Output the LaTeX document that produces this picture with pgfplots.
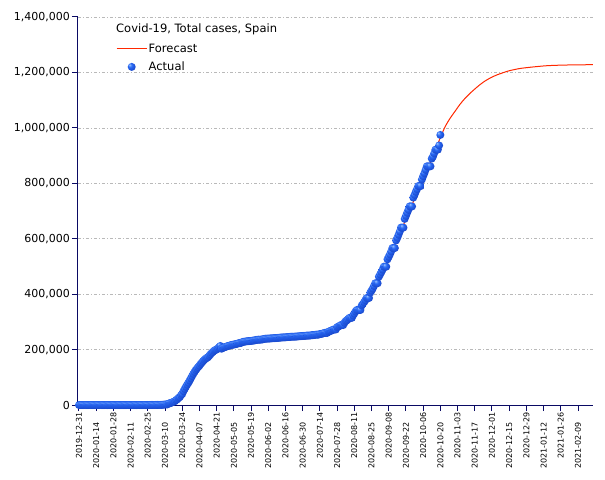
\documentclass[border=0pt]{standalone}
\usepackage{fontspec}
\setmainfont{DejaVu Sans}
\usepackage{pgfplots}
\pgfplotsset{compat=1.18}
\definecolor{navyax}{RGB}{10,10,100}
\definecolor{fcred}{RGB}{255,40,0}
\definecolor{ballhl}{RGB}{160,200,255}
\definecolor{ballblue}{RGB}{40,105,245}
\definecolor{ballmid}{RGB}{22,65,195}
\definecolor{balldark}{RGB}{8,28,115}
\pgfdeclareradialshading{brightball}{\pgfpoint{-14bp}{14bp}}{color(0bp)=(ballhl); color(12bp)=(ballblue); color(32bp)=(ballmid); color(50bp)=(balldark)}
\pgfdeclareplotmark{bball}{\pgfpathcircle{\pgfpointorigin}{\pgfplotmarksize}\pgfshadepath{brightball}{0}\pgfusepath{discard}}
\pgfplotsset{
  linelegend/.style={legend image code/.code={\draw[##1] (0bp,0bp) -- (30bp,0bp);}},
  balllegend/.style={legend image code/.code={\path[##1] plot coordinates {(15bp,0bp)}; \path (0bp,0bp) (30bp,0bp);}},
}
\begin{document}
\begin{tikzpicture}
\begin{axis}[
  at={(0,0)}, anchor=south west,
  scale only axis, width=515bp, height=388bp,
  xmin=-0.8, xmax=418.2, ymin=0, ymax=1400000,
  clip=false,
  axis x line*=bottom, axis y line*=left,
  axis line style={navyax, line width=1bp},
  tick align=outside, major tick length=6bp,
  tick style={navyax, line width=1bp},
  ytick={0,200000,...,1400000},
  scaled y ticks=false,
  yticklabel style={font=\fontsize{11bp}{13bp}\selectfont, inner sep=2bp,
    /pgf/number format/fixed, /pgf/number format/1000 sep={,}, /pgf/number format/assume math mode=true},
  ymajorgrids,
  grid style={gray!55, line width=0.6bp, dash pattern=on 3bp off 2bp on 1bp off 2bp},
  xtick={0,28,...,392},
  xticklabels={2019-12-31,2020-01-28,2020-02-25,2020-03-24,2020-04-21,2020-05-19,2020-06-16,2020-07-14,2020-08-11,2020-09-08,2020-10-06,2020-11-03,2020-12-01,2020-12-29,2021-01-26},
  xticklabel style={rotate=90, anchor=east, font=\fontsize{8bp}{10bp}\selectfont, inner sep=1bp},
  extra x ticks={14,42,...,406},
  extra x tick labels={2020-01-14,2020-02-11,2020-03-10,2020-04-07,2020-05-05,2020-06-02,2020-06-30,2020-07-28,2020-08-25,2020-09-22,2020-10-20,2020-11-17,2020-12-15,2021-01-12,2021-02-09},
  extra x tick style={xticklabel shift=10bp, grid=none},
  legend style={draw=none, fill=none, at={(axis description cs:0.0738,0.935)}, anchor=north west,
    font=\fontsize{11.5bp}{13bp}\selectfont, inner sep=0pt, row sep=5bp,
    nodes={inner sep=1.5bp}},
  legend cell align=left,
]
\addplot[fcred, line width=1bp, smooth, linelegend]
  coordinates {
  (260,610000) (265,660000) (270,712000) (275,765000) (280,815000) (285,866000)
  (290,920000) (294,965000) (298,1005000) (302,1035000) (306,1060000) (310,1085000)
  (314,1106000) (318,1124000) (322,1140000) (326,1155000) (330,1168000) (335,1181000)
  (340,1191000) (345,1199000) (350,1206000) (355,1211000) (360,1215000) (370,1220000)
  (380,1224000) (390,1226000) (400,1227000) (418,1228000)
  };
\addlegendentry{Forecast}
\addplot[only marks, mark=bball, mark size=4bp, balllegend]
  coordinates {
  (0,0) (1,0) (2,0) (3,0) (4,0) (5,0) (6,0) (7,0) (8,0) (9,0) (10,0)
  (11,0) (12,0) (13,0) (14,0) (15,0) (16,0) (17,0) (18,0) (19,0) (20,0)
  (21,0) (22,0) (23,0) (24,0) (25,0) (26,0) (27,0) (28,0) (29,0) (30,0)
  (31,1) (32,1) (33,1) (34,1) (35,1) (36,1) (37,1) (38,1) (39,1) (40,1)
  (41,2) (42,2) (43,2) (44,2) (45,2) (46,2) (47,2) (48,2) (49,2) (50,2)
  (51,2) (52,2) (53,2) (54,2) (55,2) (56,6) (57,13) (58,15) (59,32) (60,45)
  (61,84) (62,120) (63,165) (64,228) (65,282) (66,401) (67,525) (68,674) (69,1231) (70,1695)
  (71,2277) (72,2277) (73,5232) (74,6391) (75,7798) (76,9942) (77,11748) (78,13910) (79,17963) (80,20410)
  (81,25374) (82,28603) (83,35136) (84,39885) (85,49515) (86,57786) (87,65719) (88,73235) (89,80110) (90,87956)
  (91,95923) (92,104118) (93,112065) (94,119199) (95,126168) (96,131646) (97,136675) (98,141942) (99,148220) (100,153222)
  (101,158273) (102,163027) (103,166831) (104,170099) (105,172541) (106,177633) (107,182816) (108,188068) (109,191726) (110,195944)
  (111,198674) (112,200210) (113,204178) (114,208389) (115,213024) (116,202990) (117,205905) (118,207634) (119,209465) (120,210773)
  (121,212917) (122,213435) (123,215216) (124,216582) (125,217466) (126,218011) (127,219329) (128,220325) (129,221447) (130,222857)
  (131,223578) (132,224350) (133,227436) (134,228030) (135,228691) (136,229540) (137,230183) (138,230698) (139,230698) (140,231350)
  (141,232037) (142,232555) (143,233037) (144,234824) (145,235290) (146,235772) (147,235400) (148,236259) (149,236259) (150,237906)
  (151,238564) (152,239228) (153,239429) (154,239638) (155,239932) (156,240326) (157,240660) (158,240978) (159,241310) (160,241550)
  (161,241717) (162,242280) (163,242707) (164,243209) (165,243605) (166,243928) (167,243928) (168,244328) (169,244683) (170,245268)
  (171,245575) (172,245938) (173,246272) (174,246272) (175,246504) (176,246752) (177,247086) (178,247486) (179,247905) (180,248469)
  (181,248770) (182,248970) (183,249271) (184,249659) (185,250103) (186,250545) (187,250545) (188,250545) (189,251789) (190,252130)
  (191,252513) (192,253056) (193,253908) (194,253908) (195,253908) (196,255953) (197,256619) (198,257494) (199,258855) (200,260255)
  (201,260255) (202,260255) (203,264836) (204,266194) (205,267551) (206,270166) (207,272421) (208,272421) (209,272421) (210,280610)
  (211,282641) (212,285430) (213,288522) (214,288522) (215,288522) (216,297054) (217,302814) (218,305767) (219,309855) (220,314362)
  (221,314362) (222,314362) (223,322980) (224,329784) (225,337334) (226,342813) (227,342813) (228,342813) (229,342813) (230,359082)
  (231,364196) (232,370867) (233,377906) (234,386054) (235,386054) (236,386054) (237,405436) (238,412553) (239,419849) (240,429507)
  (241,439286) (242,439286) (243,439286) (244,462858) (245,470973) (246,479554) (247,488513) (248,498989) (249,498989) (250,498989)
  (251,525549) (252,534513) (253,543379) (254,554143) (255,566326) (256,566326) (257,566326) (258,593730) (259,603167) (260,614360)
  (261,625651) (262,640040) (263,640040) (264,640040) (265,671468) (266,682267) (267,693556) (268,704209) (269,716481) (270,716481)
  (271,716481) (272,748266) (273,758172) (274,769188) (275,778607) (276,789932) (277,789932) (278,789932) (279,813412) (280,825410)
  (281,835901) (282,848324) (283,861112) (284,861112) (285,861112) (286,861112) (287,888968) (288,896086) (289,908056) (290,921374)
  (291,921374) (292,921374) (293,936560) (294,974449)
  };
\addlegendentry{Actual}
\end{axis}
\node[anchor=west, inner sep=0pt, font=\fontsize{11.5bp}{13bp}\selectfont] at (38bp,376bp) {Covid-19, Total cases, Spain};
\pgfresetboundingbox
\useasboundingbox (-78bp,-75bp) rectangle (527bp,405bp);
\end{tikzpicture}
\end{document}
